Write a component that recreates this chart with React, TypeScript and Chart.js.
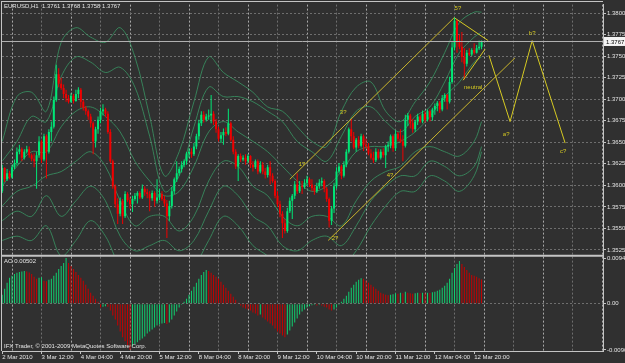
import React, { useEffect, useRef } from 'react';
import { Chart, registerables } from 'chart.js';

Chart.register(...registerables);

// ---------------- data ----------------
const SYMBOL = 'EURUSD,H1';
const FIRST_BAR = -4; // bar index of first candle (bar 0 = 3 Mar 2010 00:00, H1)

const OPEN = [
  1.3593,1.3620,1.3607,1.3614,1.3609,1.3621,1.3626,1.3639,1.3642,1.3632,
  1.3639,1.3642,1.3635,1.3631,1.3628,1.3635,1.3651,1.3630,1.3657,1.3639,
  1.3662,1.3668,1.3699,1.3729,1.3718,1.3713,1.3706,1.3701,1.3697,1.3704,
  1.3698,1.3706,1.3711,1.3697,1.3690,1.3686,1.3680,1.3672,1.3651,1.3665,
  1.3676,1.3686,1.3688,1.3683,1.3662,1.3628,1.3599,1.3578,1.3567,1.3582,
  1.3564,1.3590,1.3583,1.3578,1.3584,1.3588,1.3591,1.3586,1.3596,1.3592,
  1.3590,1.3585,1.3591,1.3582,1.3586,1.3590,1.3584,1.3579,1.3564,1.3576,
  1.3593,1.3607,1.3614,1.3619,1.3624,1.3628,1.3637,1.3639,1.3636,1.3645,
  1.3657,1.3672,1.3682,1.3676,1.3680,1.3681,1.3683,1.3674,1.3665,1.3654,
  1.3658,1.3662,1.3660,1.3672,1.3653,1.3639,1.3622,1.3634,1.3630,1.3632,
  1.3628,1.3634,1.3624,1.3621,1.3628,1.3616,1.3624,1.3616,1.3612,1.3621,
  1.3611,1.3605,1.3588,1.3578,1.3567,1.3556,1.3547,1.3570,1.3582,1.3588,
  1.3601,1.3593,1.3599,1.3598,1.3603,1.3607,1.3601,1.3597,1.3593,1.3599,
  1.3603,1.3605,1.3596,1.3584,1.3559,1.3573,1.3599,1.3616,1.3622,1.3611,
  1.3624,1.3639,1.3665,1.3657,1.3644,1.3653,1.3646,1.3657,1.3647,1.3645,
  1.3637,1.3632,1.3629,1.3639,1.3632,1.3639,1.3635,1.3645,1.3647,1.3657,
  1.3643,1.3660,1.3654,1.3651,1.3646,1.3676,1.3681,1.3672,1.3665,1.3674,
  1.3680,1.3674,1.3683,1.3676,1.3686,1.3679,1.3688,1.3692,1.3696,1.3688,
  1.3701,1.3705,1.3697,1.3720,1.3760,1.3791,1.3766,1.3761,1.3749,1.3741,
  1.3754,1.3752,1.3757,1.3754,1.3759,1.3761,
];
const HIGH = [
  1.3624,1.3621,1.3619,1.3617,1.3624,1.3630,1.3644,1.3647,1.3644,1.3642,
  1.3646,1.3645,1.3637,1.3637,1.3639,1.3657,1.3653,1.3660,1.3659,1.3665,
  1.3674,1.3703,1.3740,1.3736,1.3725,1.3717,1.3711,1.3705,1.3707,1.3706,
  1.3711,1.3714,1.3713,1.3699,1.3692,1.3688,1.3683,1.3674,1.3668,1.3680,
  1.3690,1.3694,1.3690,1.3686,1.3665,1.3630,1.3601,1.3585,1.3586,1.3584,
  1.3593,1.3592,1.3586,1.3588,1.3591,1.3593,1.3593,1.3601,1.3599,1.3596,
  1.3593,1.3594,1.3593,1.3607,1.3596,1.3593,1.3588,1.3583,1.3582,1.3598,
  1.3609,1.3628,1.3622,1.3628,1.3630,1.3639,1.3643,1.3643,1.3649,1.3660,
  1.3676,1.3686,1.3686,1.3683,1.3688,1.3705,1.3686,1.3677,1.3668,1.3662,
  1.3666,1.3667,1.3689,1.3674,1.3657,1.3642,1.3636,1.3637,1.3635,1.3636,
  1.3636,1.3635,1.3628,1.3630,1.3630,1.3628,1.3627,1.3620,1.3624,1.3628,
  1.3614,1.3607,1.3593,1.3582,1.3570,1.3561,1.3574,1.3586,1.3590,1.3605,
  1.3614,1.3605,1.3605,1.3607,1.3611,1.3609,1.3607,1.3600,1.3603,1.3607,
  1.3609,1.3607,1.3598,1.3586,1.3576,1.3603,1.3621,1.3626,1.3624,1.3628,
  1.3642,1.3667,1.3677,1.3662,1.3655,1.3657,1.3660,1.3659,1.3654,1.3649,
  1.3642,1.3639,1.3643,1.3642,1.3642,1.3643,1.3647,1.3651,1.3659,1.3659,
  1.3664,1.3662,1.3665,1.3658,1.3682,1.3684,1.3683,1.3677,1.3676,1.3683,
  1.3682,1.3687,1.3686,1.3688,1.3688,1.3690,1.3695,1.3698,1.3698,1.3705,
  1.3707,1.3706,1.3726,1.3766,1.3795,1.3792,1.3775,1.3778,1.3759,1.3757,
  1.3759,1.3759,1.3765,1.3763,1.3768,1.3768,
];
const LOW = [
  1.3591,1.3604,1.3605,1.3607,1.3608,1.3619,1.3623,1.3636,1.3628,1.3630,
  1.3637,1.3632,1.3628,1.3621,1.3596,1.3632,1.3626,1.3628,1.3608,1.3637,
  1.3651,1.3666,1.3697,1.3714,1.3711,1.3701,1.3697,1.3695,1.3696,1.3695,
  1.3697,1.3701,1.3690,1.3687,1.3682,1.3676,1.3667,1.3636,1.3644,1.3660,
  1.3672,1.3681,1.3679,1.3660,1.3626,1.3596,1.3574,1.3555,1.3564,1.3555,
  1.3562,1.3581,1.3573,1.3569,1.3582,1.3579,1.3584,1.3584,1.3588,1.3585,
  1.3570,1.3582,1.3575,1.3579,1.3583,1.3582,1.3575,1.3539,1.3559,1.3573,
  1.3590,1.3604,1.3611,1.3615,1.3621,1.3624,1.3632,1.3632,1.3634,1.3642,
  1.3653,1.3669,1.3673,1.3674,1.3676,1.3672,1.3670,1.3661,1.3651,1.3649,
  1.3647,1.3657,1.3658,1.3651,1.3636,1.3619,1.3605,1.3627,1.3628,1.3624,
  1.3626,1.3620,1.3616,1.3619,1.3613,1.3614,1.3613,1.3608,1.3609,1.3601,
  1.3603,1.3585,1.3575,1.3563,1.3539,1.3544,1.3545,1.3568,1.3561,1.3584,
  1.3590,1.3591,1.3590,1.3596,1.3600,1.3598,1.3593,1.3589,1.3591,1.3596,
  1.3599,1.3592,1.3581,1.3551,1.3554,1.3568,1.3596,1.3614,1.3607,1.3609,
  1.3621,1.3637,1.3651,1.3642,1.3639,1.3643,1.3644,1.3640,1.3643,1.3635,
  1.3630,1.3626,1.3627,1.3630,1.3630,1.3632,1.3620,1.3639,1.3643,1.3639,
  1.3640,1.3651,1.3649,1.3628,1.3644,1.3669,1.3666,1.3661,1.3662,1.3670,
  1.3672,1.3672,1.3673,1.3674,1.3674,1.3675,1.3682,1.3686,1.3684,1.3686,
  1.3697,1.3688,1.3695,1.3718,1.3757,1.3754,1.3758,1.3743,1.3723,1.3738,
  1.3750,1.3750,1.3752,1.3753,1.3757,1.3758,
];
const CLOSE = [
  1.3620,1.3607,1.3614,1.3609,1.3621,1.3626,1.3639,1.3642,1.3632,1.3639,
  1.3642,1.3635,1.3631,1.3628,1.3635,1.3651,1.3630,1.3657,1.3639,1.3662,
  1.3668,1.3699,1.3729,1.3718,1.3713,1.3706,1.3701,1.3697,1.3704,1.3698,
  1.3706,1.3711,1.3697,1.3690,1.3686,1.3680,1.3672,1.3651,1.3665,1.3676,
  1.3686,1.3688,1.3683,1.3662,1.3628,1.3599,1.3578,1.3567,1.3582,1.3564,
  1.3590,1.3583,1.3578,1.3584,1.3588,1.3591,1.3586,1.3596,1.3592,1.3590,
  1.3585,1.3591,1.3582,1.3586,1.3590,1.3584,1.3579,1.3564,1.3576,1.3593,
  1.3607,1.3614,1.3619,1.3624,1.3628,1.3637,1.3639,1.3636,1.3645,1.3657,
  1.3672,1.3682,1.3676,1.3680,1.3681,1.3683,1.3674,1.3665,1.3654,1.3658,
  1.3662,1.3660,1.3672,1.3653,1.3639,1.3622,1.3634,1.3630,1.3632,1.3628,
  1.3634,1.3624,1.3621,1.3628,1.3616,1.3624,1.3616,1.3612,1.3621,1.3611,
  1.3605,1.3588,1.3578,1.3567,1.3556,1.3547,1.3570,1.3582,1.3588,1.3601,
  1.3593,1.3599,1.3598,1.3603,1.3607,1.3601,1.3597,1.3593,1.3599,1.3603,
  1.3605,1.3596,1.3584,1.3559,1.3573,1.3599,1.3616,1.3622,1.3611,1.3624,
  1.3639,1.3665,1.3657,1.3644,1.3653,1.3646,1.3657,1.3647,1.3645,1.3637,
  1.3632,1.3629,1.3639,1.3632,1.3639,1.3635,1.3645,1.3647,1.3657,1.3643,
  1.3660,1.3654,1.3651,1.3646,1.3676,1.3681,1.3672,1.3665,1.3674,1.3680,
  1.3674,1.3683,1.3676,1.3686,1.3679,1.3688,1.3692,1.3696,1.3688,1.3701,
  1.3705,1.3697,1.3720,1.3760,1.3791,1.3766,1.3761,1.3749,1.3741,1.3754,
  1.3752,1.3757,1.3754,1.3759,1.3761,1.3767,
];
const AO = [
  0.00185,0.00309,0.00433,0.00536,0.00577,0.00618,0.00639,0.00659,0.00669,0.0068,
  0.00669,0.00649,0.00618,0.00556,0.00515,0.00536,0.00546,0.00474,0.00464,0.00494,
  0.00515,0.00577,0.00639,0.00721,0.00783,0.00845,0.00946,0.00845,0.00783,0.00721,
  0.00659,0.00597,0.00536,0.00474,0.00391,0.00309,0.00227,0.00165,0.00103,0.00041,
  -0.00082,-0.00062,-0.00052,-0.00062,-0.00144,-0.00247,-0.0033,-0.00453,-0.00577,-0.007,
  -0.00783,-0.00865,-0.00962,-0.00886,-0.00845,-0.00803,-0.00762,-0.00721,-0.0068,-0.00618,
  -0.00577,-0.00536,-0.00494,-0.00453,-0.00433,-0.00412,-0.00402,-0.00422,-0.00391,-0.0033,
  -0.00247,-0.00165,-0.00082,-0.00021,0.00041,0.00103,0.00185,0.00268,0.0035,0.00433,
  0.00515,0.00597,0.00659,0.007,0.0068,0.00639,0.00597,0.00556,0.00515,0.00453,
  0.00391,0.0033,0.00268,0.00206,0.00144,0.00082,0.00021,-0.00041,-0.00082,-0.00103,
  -0.00124,-0.00144,-0.00185,-0.00206,-0.00247,-0.00227,-0.00288,-0.0033,-0.00371,-0.00412,
  -0.00453,-0.00515,-0.00577,-0.00618,-0.00659,-0.007,-0.00639,-0.00556,-0.00474,-0.00391,
  -0.00309,-0.00227,-0.00165,-0.00124,-0.00082,-0.00052,-0.00031,-0.00021,-0.00041,-0.00021,
  -0.00041,-0.00062,-0.00082,-0.00124,-0.00144,-0.00124,-0.00082,-0.00021,0.00041,0.00103,
  0.00165,0.00247,0.0033,0.00391,0.00453,0.00494,0.00525,0.00515,0.00474,0.00433,
  0.00391,0.0035,0.00309,0.00268,0.00227,0.00206,0.00185,0.00175,0.00185,0.00196,
  0.00216,0.00206,0.00227,0.00216,0.00247,0.00227,0.00216,0.00206,0.00216,0.00227,
  0.00216,0.00227,0.00216,0.00227,0.00222,0.00237,0.00247,0.00268,0.00288,0.0033,
  0.00371,0.00433,0.00515,0.00639,0.00742,0.00824,0.00886,0.00824,0.00762,0.007,
  0.00639,0.00597,0.00577,0.00556,0.00525,0.00502,
];

// Bollinger-type envelope lines, read at every 6th bar
const BAND_BARS = [-4,2,8,14,20,26,32,38,44,50,56,62,68,74,80,86,92,98,104,110,116,122,128,134,140,146,152,158,164,170,176,182,188,191];
const BAND_U3 = [1.3651,1.3703,1.3708,1.3686,1.3766,1.3783,1.3772,1.3766,1.3783,1.3749,1.3680,1.3611,1.3639,1.3697,1.3749,1.3731,1.3720,1.3708,1.3691,1.3686,1.3668,1.3651,1.3645,1.3686,1.3714,1.3720,1.3686,1.3674,1.3697,1.3720,1.3754,1.3789,1.3801,1.3801];
const BAND_U2 = [1.3628,1.3651,1.3680,1.3674,1.3726,1.3749,1.3743,1.3731,1.3737,1.3714,1.3657,1.3593,1.3611,1.3668,1.3714,1.3703,1.3703,1.3697,1.3686,1.3674,1.3651,1.3639,1.3628,1.3657,1.3686,1.3691,1.3674,1.3662,1.3680,1.3691,1.3720,1.3754,1.3772,1.3778];
const BAND_U1 = [1.3599,1.3622,1.3639,1.3639,1.3668,1.3686,1.3691,1.3680,1.3662,1.3628,1.3605,1.3588,1.3593,1.3622,1.3662,1.3674,1.3662,1.3651,1.3639,1.3622,1.3605,1.3593,1.3599,1.3616,1.3639,1.3645,1.3645,1.3651,1.3662,1.3680,1.3703,1.3720,1.3743,1.3749];
const BAND_L1 = [1.3576,1.3593,1.3599,1.3611,1.3616,1.3628,1.3639,1.3622,1.3582,1.3553,1.3564,1.3564,1.3547,1.3564,1.3605,1.3628,1.3622,1.3599,1.3588,1.3564,1.3553,1.3564,1.3564,1.3553,1.3582,1.3605,1.3616,1.3622,1.3639,1.3645,1.3639,1.3634,1.3651,1.3674];
const BAND_L2 = [1.3559,1.3570,1.3564,1.3588,1.3564,1.3582,1.3599,1.3582,1.3541,1.3524,1.3530,1.3536,1.3524,1.3536,1.3570,1.3599,1.3588,1.3564,1.3553,1.3530,1.3524,1.3536,1.3541,1.3530,1.3553,1.3582,1.3599,1.3611,1.3611,1.3628,1.3622,1.3611,1.3622,1.3645];
const BAND_L3 = [1.3536,1.3541,1.3536,1.3553,1.3518,1.3536,1.3559,1.3541,1.3507,1.3501,1.3501,1.3507,1.3501,1.3507,1.3536,1.3564,1.3553,1.3530,1.3518,1.3501,1.3501,1.3507,1.3518,1.3507,1.3524,1.3553,1.3576,1.3593,1.3593,1.3611,1.3605,1.3593,1.3611,1.3639];

// hand-drawn wave analysis objects (bar index, price)
const CHANNEL_UPPER = [{ bar: 113, price: 1.3607 }, { bar: 180, price: 1.3795 }];
const CHANNEL_LOWER = [{ bar: 128.6, price: 1.3536 }, { bar: 204.6, price: 1.3748 }];
const WEDGE_UPPER = [{ bar: 180.2, price: 1.3794 }, { bar: 193.7, price: 1.3768 }];
const WEDGE_LOWER = [{ bar: 183.5, price: 1.3722 }, { bar: 192.4, price: 1.3758 }];
const WAVE_PATH = [
  { bar: 194, price: 1.3751 }, { bar: 202.6, price: 1.3674 },
  { bar: 211.6, price: 1.3768 }, { bar: 225, price: 1.3649 },
];
const WAVE_LABELS = [
  { text: '1?', bar: 118, price: 1.3624 },
  { text: '2?', bar: 131.4, price: 1.35385 },
  { text: '3?', bar: 134.7, price: 1.36848 },
  { text: '4?', bar: 153.8, price: 1.36111 },
  { text: '5?', bar: 181.4, price: 1.38052 },
  { text: 'neutral', bar: 187.6, price: 1.37142 },
  { text: 'a?', bar: 201, price: 1.36595 },
  { text: 'b?', bar: 211.6, price: 1.3777 },
  { text: 'c?', bar: 224.2, price: 1.36399 },
];

const TIME_LABELS = ['2 Mar 2010', '3 Mar 12:00', '4 Mar 04:00', '4 Mar 20:00', '5 Mar 12:00', '8 Mar 04:00', '8 Mar 20:00', '9 Mar 12:00', '10 Mar 04:00', '10 Mar 20:00', '11 Mar 12:00', '12 Mar 04:00', '12 Mar 20:00'];
const TIME_LABEL_BARS = [-4, 12, 28, 44, 60, 76, 92, 108, 124, 140, 156, 172, 188];
const GRID_BARS = [0, 12, 24, 36, 48, 60, 72, 84, 96, 108, 120, 132, 144, 156, 168, 180, 192, 204, 216, 228, 240];
const PRICE_TICKS = [1.3525, 1.355, 1.3575, 1.36, 1.3625, 1.365, 1.3675, 1.37, 1.3725, 1.375, 1.3775, 1.38];
const AO_TICKS = [-0.00962, 0, 0.00946];
const PRICE_RANGE = [1.35183, 1.38098];
const AO_RANGE = [-0.00983, 0.00995];
const BAR_RANGE = [-4.07, 240.4];
const BID = 1.3767;

// ---------------- style ----------------
const BG = '#303030';
const FRAME = '#c4c4c4';
const TEXT = '#e4e4e4';
const GRID = '#6e6e6e';
const GRID_DAY = '#a8a8a8';
const BULL = '#00e676';
const BEAR = '#f00000';
const AO_UP = '#10d070';
const AO_DOWN = '#c80000';
const BAND = 'rgba(58,150,100,0.8)';
const YELLOW = '#c8b42c';
const YELLOW_WAVE = '#d6ca22';
const FONT = 'Liberation Sans';

const overlay = {
  id: 'mt4overlay',
  beforeDraw(chart: any) {
    const { ctx, width, height } = chart;
    ctx.save();
    ctx.fillStyle = BG;
    ctx.fillRect(0, 0, width, height);
    ctx.restore();
  },
  afterDatasetsDraw(chart: any) {
    const { ctx, chartArea } = chart;
    const yP = chart.scales.y;
    const y = Math.round(yP.getPixelForValue(BID)) + 0.5;
    ctx.save();
    ctx.strokeStyle = '#b0b0b0';
    ctx.lineWidth = 1;
    ctx.beginPath();
    ctx.moveTo(chartArea.left, y);
    ctx.lineTo(chartArea.right, y);
    ctx.stroke();
    ctx.restore();
  },
  afterDraw(chart: any) {
    const { ctx, chartArea } = chart;
    const xS = chart.scales.x;
    const yP = chart.scales.y;
    ctx.save();
    ctx.strokeStyle = FRAME;
    ctx.lineWidth = 1;
    ctx.beginPath();
    ctx.moveTo(1, 1.5);
    ctx.lineTo(chartArea.right, 1.5);
    ctx.moveTo(1.5, 1);
    ctx.lineTo(1.5, chartArea.bottom);
    ctx.stroke();
    ctx.lineWidth = 2;
    ctx.beginPath();
    ctx.moveTo(1, yP.bottom);
    ctx.lineTo(chartArea.right, yP.bottom);
    ctx.stroke();

    const by = yP.getPixelForValue(BID);
    ctx.fillStyle = '#f4f4f4';
    ctx.fillRect(chartArea.right + 1, by - 4.5, 21, 9);
    ctx.fillStyle = '#000';
    ctx.font = `6px "${FONT}"`;
    ctx.textBaseline = 'middle';
    ctx.textAlign = 'left';
    ctx.fillText(BID.toFixed(4), chartArea.right + 3, by + 0.5);

    const n = CLOSE.length - 1;
    ctx.fillStyle = TEXT;
    ctx.fillText(`${SYMBOL}  ${OPEN[n].toFixed(4)} ${HIGH[n].toFixed(4)} ${LOW[n].toFixed(4)} ${CLOSE[n].toFixed(4)}`, 4, 6.5);
    ctx.fillText(`AO ${AO[n].toFixed(5)}`, 4, yP.bottom + 6);
    ctx.fillText('IFX Trader, \u00a9 2001-2009 MetaQuotes Software Corp.', 4, chartArea.bottom - 4.5);

    ctx.fillStyle = YELLOW_WAVE;
    ctx.textAlign = 'center';
    for (const l of WAVE_LABELS) {
      ctx.fillText(l.text, xS.getPixelForValue(l.bar), yP.getPixelForValue(l.price));
    }
    ctx.restore();
  },
};

export default function App() {
  const canvasRef = useRef<HTMLCanvasElement | null>(null);

  useEffect(() => {
    document.body.style.margin = '0';
    document.body.style.background = BG;
    const canvas = canvasRef.current;
    if (!canvas) return;

    const bars = CLOSE.map((_, i) => FIRST_BAR + i);
    const candleColor = CLOSE.map((c, i) => (c >= OPEN[i] ? BULL : BEAR));
    const aoColor = AO.map((v, i) => (i === 0 || v > AO[i - 1] ? AO_UP : AO_DOWN));
    const font = { family: FONT, size: 6 };

    const band = (vals: number[]) => ({
      type: 'line',
      yAxisID: 'y',
      data: BAND_BARS.map((b, k) => ({ x: b, y: vals[k] })),
      borderColor: BAND,
      borderWidth: 1,
      pointRadius: 0,
      tension: 0.35,
      order: 10,
    });
    const seg = (pts: { bar: number; price: number }[], color: string) => ({
      type: 'line',
      yAxisID: 'y',
      data: pts.map((p) => ({ x: p.bar, y: p.price })),
      borderColor: color,
      borderWidth: 1,
      pointRadius: 0,
      tension: 0,
      order: 0,
    });
    const xTicks = Array.from(new Set([...GRID_BARS, ...TIME_LABEL_BARS])).sort((a, b) => a - b);

    const chart = new Chart(canvas, {
      type: 'bar',
      data: {
        datasets: [
          band(BAND_U3), band(BAND_U2), band(BAND_U1), band(BAND_L1), band(BAND_L2), band(BAND_L3),
          {
            type: 'bar',
            yAxisID: 'y',
            data: bars.map((b, i) => ({ x: b, y: [LOW[i], HIGH[i]] })),
            backgroundColor: candleColor,
            barThickness: 1,
            inflateAmount: 0,
            grouped: false,
            order: 3,
          },
          {
            type: 'bar',
            yAxisID: 'y',
            data: bars.map((b, i) => ({ x: b, y: [OPEN[i], CLOSE[i]] })),
            backgroundColor: candleColor,
            barThickness: 2,
            minBarLength: 1,
            inflateAmount: 0,
            grouped: false,
            order: 2,
          },
          {
            type: 'bar',
            yAxisID: 'yAO',
            data: bars.map((b, i) => ({ x: b, y: AO[i] })),
            backgroundColor: aoColor,
            barThickness: 1,
            inflateAmount: 0,
            grouped: false,
            order: 2,
          },
          seg(CHANNEL_UPPER, YELLOW),
          seg(CHANNEL_LOWER, YELLOW),
          seg(WEDGE_UPPER, YELLOW_WAVE),
          seg(WEDGE_LOWER, YELLOW_WAVE),
          seg(WAVE_PATH, YELLOW_WAVE),
        ] as any,
      },
      options: {
        responsive: false,
        devicePixelRatio: 1,
        animation: false,
        events: [],
        layout: { padding: { left: 2, top: 2, right: 0, bottom: 0 } },
        plugins: { legend: { display: false }, tooltip: { enabled: false } },
        scales: {
          x: {
            type: 'linear',
            position: 'bottom',
            min: BAR_RANGE[0],
            max: BAR_RANGE[1],
            bounds: 'data',
            offset: false,
            afterBuildTicks: (s: any) => { s.ticks = xTicks.map((v) => ({ value: v })); },
            afterFit: (s: any) => { s.height = 12; },
            ticks: {
              autoSkip: false,
              maxRotation: 0,
              minRotation: 0,
              align: 'start',
              padding: 0,
              color: TEXT,
              font,
              callback: (v: any) => {
                const k = TIME_LABEL_BARS.indexOf(Number(v));
                return k >= 0 ? TIME_LABELS[k] : '';
              },
            },
            grid: {
              offset: false,
              lineWidth: 1,
              drawTicks: true,
              tickLength: 3,
              color: (c: any) => {
                const v = c.tick ? c.tick.value : NaN;
                if (GRID_BARS.indexOf(v) < 0) return 'rgba(0,0,0,0)';
                return v % 24 === 0 ? GRID_DAY : GRID;
              },
              tickColor: (c: any) => (c.tick && TIME_LABEL_BARS.indexOf(c.tick.value) >= 0 ? FRAME : 'rgba(0,0,0,0)'),
            },
            border: { display: true, color: FRAME, dash: [2, 2] },
          },
          y: {
            type: 'linear',
            position: 'right',
            stack: 'panes',
            stackWeight: 253,
            weight: 0,
            min: PRICE_RANGE[0],
            max: PRICE_RANGE[1],
            bounds: 'data',
            afterBuildTicks: (s: any) => { s.ticks = PRICE_TICKS.map((v) => ({ value: v })); },
            afterFit: (s: any) => { s.width = 22; },
            ticks: { color: TEXT, font, padding: 1, callback: (v: any) => Number(v).toFixed(4) },
            grid: { color: GRID, lineWidth: 1, drawTicks: true, tickLength: 3, tickColor: FRAME },
            border: { display: true, color: FRAME, dash: [2, 2] },
          },
          yAO: {
            type: 'linear',
            position: 'right',
            stack: 'panes',
            stackWeight: 96,
            weight: 1,
            min: AO_RANGE[0],
            max: AO_RANGE[1],
            bounds: 'data',
            afterBuildTicks: (s: any) => { s.ticks = AO_TICKS.map((v) => ({ value: v })); },
            afterFit: (s: any) => { s.width = 22; },
            ticks: { color: TEXT, font, padding: 1, callback: (v: any) => (Number(v) === 0 ? '0.00' : Number(v).toFixed(5)) },
            grid: {
              color: (c: any) => (c.tick && c.tick.value === 0 ? GRID : 'rgba(0,0,0,0)'),
              lineWidth: 1,
              drawTicks: true,
              tickLength: 3,
              tickColor: FRAME,
            },
            border: { display: true, color: FRAME, dash: [2, 2] },
          },
        },
      } as any,
      plugins: [overlay],
    });

    return () => chart.destroy();
  }, []);

  return <canvas ref={canvasRef} width={625} height={363} style={{ display: 'block', width: 625, height: 363 }} />;
}
